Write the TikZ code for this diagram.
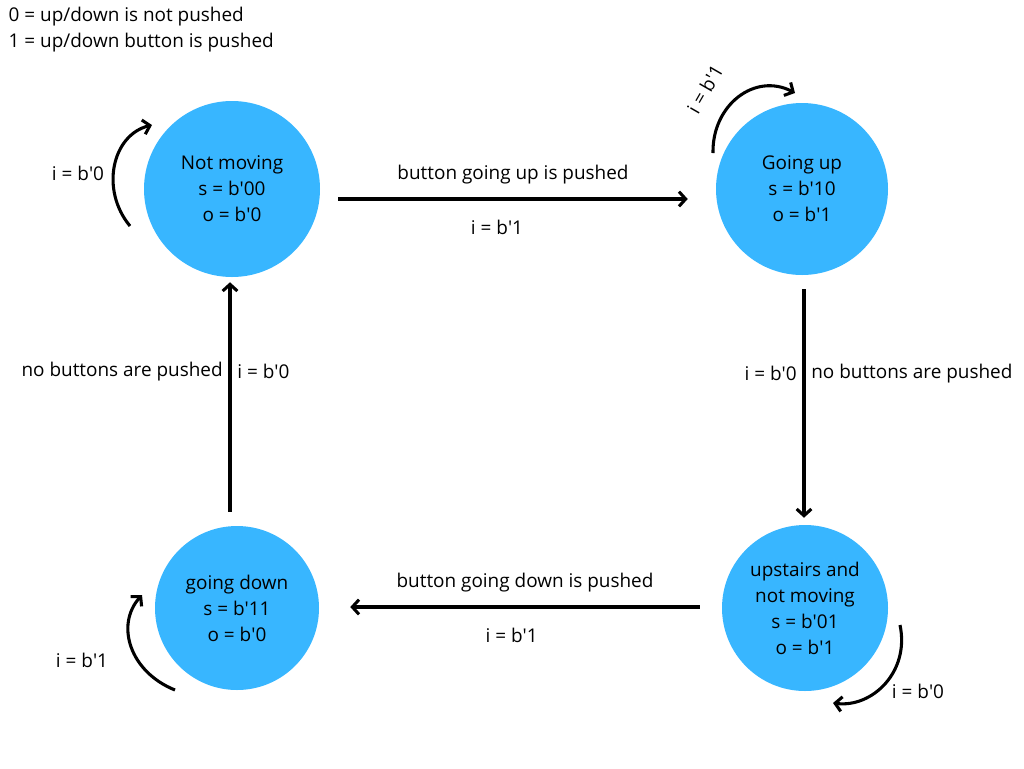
\documentclass[tikz,border=0pt]{standalone}
\usepackage{fontspec}
\setmainfont{Open Sans}
\usetikzlibrary{arrows.meta}
\definecolor{stateblue}{RGB}{56,182,255}
\newcommand{\bv}[1]{b\textquotesingle#1}

\begin{document}
\begin{tikzpicture}[x=0.75pt,y=-0.75pt,
        every node/.style={font=\fontsize{14.2}{19.5}\selectfont},
        trans/.style={line width=2.3pt,-{Straight Barb[length=5pt,width=11pt,line width=2.3pt]}}]
            \useasboundingbox (0,0) rectangle (1024,768);
            \begin{scope}[every node/.style={circle,fill=stateblue,inner sep=0pt,align=center,font=\fontsize{14.2}{19.5}\selectfont}]
                \node[minimum size=132pt] (nm) at (232,189) {Not moving\\s = \bv{00}\\o = \bv{0}};
                \node[minimum size=129pt] (gu) at (802,189) {Going up\\s = \bv{10}\\o = \bv{1}};
                \node[minimum size=124.5pt] (up) at (805,608) {upstairs and\\not moving\\s = \bv{01}\\o = \bv{1}};
                \node[minimum size=123pt] (gd) at (237,608) {going down\\s = \bv{11}\\o = \bv{0}};
            \end{scope}
            % legend
            \node[anchor=west] (key0) at (4,17) {0 = up/down is not pushed};
            \node[anchor=west] (key1) at (4,43) {1 = up/down button is pushed};
            % transitions
            \draw[trans] ([shift={(18,10)}]nm.east) -- node[above=6.5pt]{button going up is pushed} node[below=11pt,xshift=-12]{i = \bv{1}} ([shift={(-28,10)}]gu.west);
            \draw[trans] ([shift={(2,14)}]gu.south) -- node[pos=0.37,left=1pt]{i = \bv{0}} node[pos=0.37,right=1pt]{no buttons are pushed} ([shift={(-1,-7)}]up.north);
            \draw[trans] ([shift={(-22,-1)}]up.west) -- node[above=6.5pt]{button going down is pushed} node[below=11pt,xshift=-10]{i = \bv{1}} ([shift={(31,-1)}]gd.east);
            \draw[trans] ([shift={(-7,-14)}]gd.north) -- node[pos=0.61,left=1pt]{no buttons are pushed} node[pos=0.61,right=1pt]{i = \bv{0}} ([shift={(-2,5)}]nm.south);
            % self loops
            \coordinate (nm0) at (130,226);
            \coordinate (nm1) at (152,125);
            \draw[trans] (nm0) .. controls (100,190) and (112,135) .. (nm1);
            \node (nml) at (78,173) {i = \bv{0}};
            \coordinate (gu0) at (713,153);
            \coordinate (gu1) at (795,93);
            \draw[trans] (gu0) .. controls (712,105) and (755,72) .. (gu1);
            \node[rotate=60] (gul) at (705,89) {i = \bv{1}};
            \coordinate (up0) at (900,625);
            \coordinate (up1) at (833,703);
            \draw[trans] (up0) .. controls (910,672) and (872,708) .. (up1);
            \node (upl) at (918,691) {i = \bv{0}};
            \coordinate (gd0) at (175,690);
            \coordinate (gd1) at (142,595);
            \draw[trans] (gd0) .. controls (130,672) and (115,625) .. (gd1);
            \node (gdl) at (82,660) {i = \bv{1}};
        \end{tikzpicture}
\end{document}
